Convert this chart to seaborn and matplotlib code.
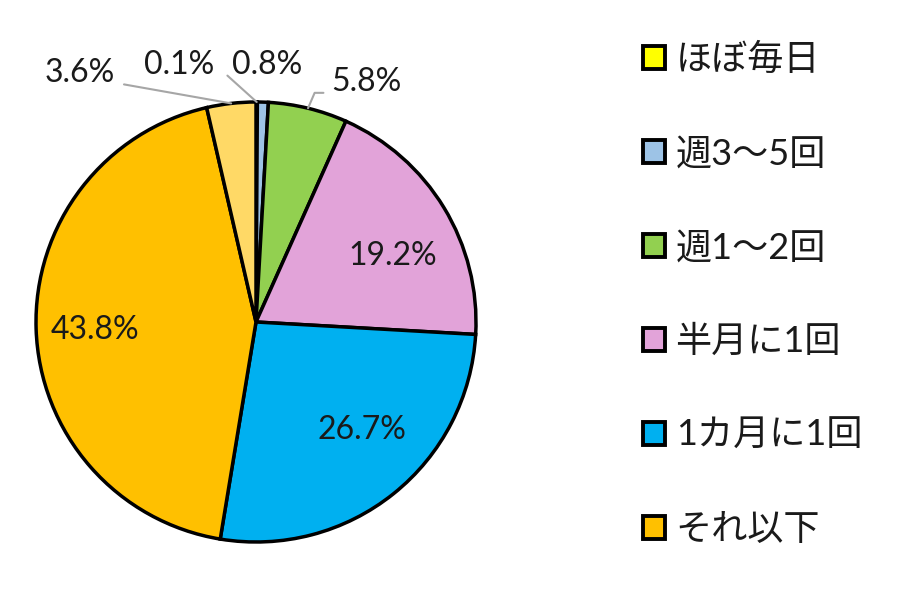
import seaborn as sns
import matplotlib.pyplot as plt
from matplotlib.patches import Patch
import numpy as np

# data (clockwise from 12 o'clock)
categories = ['ほぼ毎日', '週3〜5回', '週1〜2回', '半月に1回', '1カ月に1回', 'それ以下', '無回答']
shares = [0.1, 0.8, 5.8, 19.2, 26.7, 43.8, 3.6]
colors = ['#FFFF00', '#9DC3E6', '#92D050', '#E2A3D9', '#00B0F0', '#FFC000', '#FFD966']
legend_count = 6  # last slice has no legend entry

sns.set_theme(style='white')
plt.rcParams['font.family'] = ['Lato', 'Noto Sans CJK JP', 'DejaVu Sans']
text_color = '#1a1a1a'

fig = plt.figure(figsize=(9, 6), dpi=100)
# pie box: 440x440 px, centre at (256, 322) px
ax = fig.add_axes([36 / 900, (600 - 542) / 600, 440 / 900, 440 / 600])
wedges, _ = ax.pie(shares, colors=colors, startangle=90, counterclock=False,
                   wedgeprops=dict(edgecolor='black', linewidth=2.5))
ax.set_xlim(-1, 1)
ax.set_ylim(-1, 1)
ax.axis('off')

# label positions (in radius units)
label_pos = [(-0.35, 1.17), (0.05, 1.17), (0.50, 1.09), (0.62, 0.30),
             (0.48, -0.49), (-0.73, -0.035), (-0.80, 1.13)]
for w, val, (lx, ly) in zip(wedges, shares, label_pos):
    ax.text(lx, ly, f'{val:.1f}%', ha='center', va='center',
            fontsize=23, color=text_color)

def edge_point(w):
    mid = np.deg2rad((w.theta1 + w.theta2) / 2)
    return np.cos(mid), np.sin(mid)

grey = '#a6a6a6'
# 0.1% leader
x0, y0 = edge_point(wedges[0])
ax.plot([x0, -0.13], [y0, 1.12], color=grey, lw=1.5, clip_on=False)
# 5.8% leader
x2, y2 = edge_point(wedges[2])
ax.plot([x2, x2 + 0.03, x2 + 0.07], [y2, y2 + 0.07, y2 + 0.07], color=grey, lw=1.5, clip_on=False)
# 3.6% leader
x6, y6 = edge_point(wedges[6])
ax.plot([x6, -0.60], [y6, 1.08], color=grey, lw=1.5, clip_on=False)

handles = [Patch(facecolor=c, edgecolor='black', linewidth=2.8) for c in colors[:legend_count]]
fig.legend(handles, categories[:legend_count], loc='upper left',
           bbox_to_anchor=(0.678, 0.982), frameon=False, fontsize=26,
           handlelength=0.61, handleheight=0.61, handletextpad=0.3,
           labelspacing=1.685, labelcolor=text_color)

fig.savefig('out.png', dpi=100)
